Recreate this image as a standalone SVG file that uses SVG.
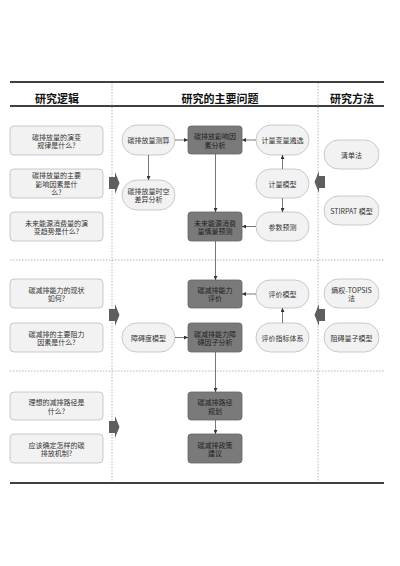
<svg xmlns="http://www.w3.org/2000/svg" width="400" height="566" viewBox="0 0 400 566">
<defs>
<style>
.hdr{font-family:"Noto Sans CJK SC","Noto Sans",sans-serif;font-weight:bold;font-size:11px;fill:#111;text-anchor:middle}
.t{font-family:"Noto Sans CJK SC","Noto Sans",sans-serif;font-size:7px;fill:#333;text-anchor:middle;dominant-baseline:central}
.lt rect{fill:#f2f2f2;stroke:#bdbdbd;stroke-width:0.8}
.dk rect{fill:#7a7a7a;stroke:#666;stroke-width:0.8}
.dk text{fill:#1e1e1e}
.thick{stroke:#000;stroke-width:1.6}
.dot{stroke:#9a9a9a;stroke-width:0.7;stroke-dasharray:1.5 1.5;fill:none}
.c{stroke:#555;stroke-width:0.8;fill:none;marker-end:url(#ah)}
.big{fill:#5e5e5e}
</style>
<marker id="ah" markerWidth="4" markerHeight="4" refX="4" refY="2" orient="auto" markerUnits="userSpaceOnUse">
<path d="M0,0 L4,2 L0,4 z" fill="#333"/>
</marker>
</defs>
<rect width="400" height="566" fill="#fff"/>

<g id="frame">
<line class="thick" x1="10" y1="82" x2="384" y2="82"/>
<line class="thick" x1="10" y1="106" x2="384" y2="106"/>
<line class="thick" x1="10" y1="483" x2="384" y2="483"/>
<line class="dot" x1="112" y1="83" x2="112" y2="482"/>
<line class="dot" x1="318" y1="83" x2="318" y2="482"/>
<line class="dot" x1="10" y1="260" x2="384" y2="260"/>
<line class="dot" x1="10" y1="371" x2="384" y2="371"/>
<text class="hdr" x="57" y="103">研究逻辑</text>
<text class="hdr" x="220" y="103">研究的主要问题</text>
<text class="hdr" x="352" y="103">研究方法</text>
</g>

<g id="bigarrows">
<path class="big" d="M109,177 L115,177 L115,172 L119.5,183 L115,194 L115,189 L109,189 z"/>
<path class="big" d="M109,309 L115,309 L115,304 L119.5,315 L115,326 L115,321 L109,321 z"/>
<path class="big" d="M109,421 L115,421 L115,416 L119.5,427 L115,438 L115,433 L109,433 z"/>
<path class="big" d="M325,176 L319,176 L319,171 L314.5,182 L319,193 L319,188 L325,188 z"/>
<path class="big" d="M325,309 L319,309 L319,304 L314.5,315 L319,326 L319,321 L325,321 z"/>
</g>

<g id="q1" class="lt"><rect x="10" y="126" width="93" height="29" rx="4"/><text class="t" x="56.5" y="136.5">碳排放量的演变</text><text class="t" x="56.5" y="145">规律是什么?</text></g>
<g id="q2" class="lt"><rect x="10" y="169" width="93" height="29" rx="4"/><text class="t" x="56.5" y="175">碳排放量的主要</text><text class="t" x="56.5" y="183.5">影响因素是什</text><text class="t" x="56.5" y="192">么?</text></g>
<g id="q3" class="lt"><rect x="10" y="212" width="93" height="29" rx="4"/><text class="t" x="56.5" y="222.5">未来能源消费量的演</text><text class="t" x="56.5" y="231">变趋势是什么?</text></g>
<g id="q4" class="lt"><rect x="10" y="279" width="93" height="29" rx="4"/><text class="t" x="56.5" y="289.5">碳减排能力的现状</text><text class="t" x="56.5" y="298">如何?</text></g>
<g id="q5" class="lt"><rect x="10" y="323" width="93" height="29" rx="4"/><text class="t" x="56.5" y="333.5">碳减排的主要阻力</text><text class="t" x="56.5" y="342">因素是什么?</text></g>
<g id="q6" class="lt"><rect x="10" y="392" width="93" height="28" rx="4"/><text class="t" x="56.5" y="402">理想的减排路径是</text><text class="t" x="56.5" y="410.5">什么?</text></g>
<g id="q7" class="lt"><rect x="10" y="434" width="93" height="29" rx="4"/><text class="t" x="56.5" y="444.5">应该确定怎样的碳</text><text class="t" x="56.5" y="453">排放机制?</text></g>

<g id="a1" class="lt"><rect x="122" y="125" width="53" height="30" rx="15"/><text class="t" x="148.5" y="140">碳排放量测算</text></g>
<g id="a2" class="lt"><rect x="122" y="180" width="53" height="30" rx="15"/><text class="t" x="148.5" y="190.5">碳排放量时空</text><text class="t" x="148.5" y="199">差异分析</text></g>
<g id="a3" class="lt"><rect x="122" y="323" width="53" height="29" rx="14.5"/><text class="t" x="148.5" y="337.5">障碍度模型</text></g>

<g id="b1" class="dk"><rect x="188" y="126" width="54" height="28" rx="3"/><text class="t" x="215" y="136">碳排放影响因</text><text class="t" x="215" y="144.5">素分析</text></g>
<g id="b2" class="dk"><rect x="188" y="212" width="54" height="29" rx="3"/><text class="t" x="215" y="222.5">未来能源消费</text><text class="t" x="215" y="231">量情景预测</text></g>
<g id="b3" class="dk"><rect x="188" y="280" width="54" height="28" rx="3"/><text class="t" x="215" y="289.5">碳减排能力</text><text class="t" x="215" y="298">评价</text></g>
<g id="b4" class="dk"><rect x="188" y="323" width="54" height="29" rx="3"/><text class="t" x="215" y="333.5">碳减排能力障</text><text class="t" x="215" y="342">碍因子分析</text></g>
<g id="b5" class="dk"><rect x="188" y="392" width="54" height="28" rx="3"/><text class="t" x="215" y="402">碳减排路径</text><text class="t" x="215" y="410.5">规划</text></g>
<g id="b6" class="dk"><rect x="188" y="434" width="54" height="29" rx="3"/><text class="t" x="215" y="444.5">碳减排政策</text><text class="t" x="215" y="453">建议</text></g>

<g id="c1" class="lt"><rect x="256" y="125" width="53" height="30" rx="15"/><text class="t" x="282.5" y="140">计量变量遴选</text></g>
<g id="c2" class="lt"><rect x="256" y="169" width="53" height="29" rx="14.5"/><text class="t" x="282.5" y="183.5">计量模型</text></g>
<g id="c3" class="lt"><rect x="256" y="212" width="53" height="29" rx="14.5"/><text class="t" x="282.5" y="226.5">参数预测</text></g>
<g id="c4" class="lt"><rect x="256" y="280" width="53" height="28" rx="14"/><text class="t" x="282.5" y="294">评价模型</text></g>
<g id="c5" class="lt"><rect x="256" y="323" width="53" height="29" rx="14.5"/><text class="t" x="282.5" y="337.5">评价指标体系</text></g>

<g id="m1" class="lt"><rect x="324" y="140" width="55" height="29" rx="14.5"/><text class="t" x="351.5" y="154.5">清单法</text></g>
<g id="m2" class="lt"><rect x="324" y="196" width="55" height="29" rx="14.5"/><text class="t" x="351.5" y="210.5">STIRPAT 模型</text></g>
<g id="m3" class="lt"><rect x="324" y="279" width="55" height="29" rx="14.5"/><text class="t" x="351.5" y="289.5">熵权-TOPSIS</text><text class="t" x="351.5" y="298">法</text></g>
<g id="m4" class="lt"><rect x="324" y="323" width="55" height="29" rx="14.5"/><text class="t" x="351.5" y="337.5">阻碍量子模型</text></g>

<g id="connectors">
<line class="c" x1="175" y1="140" x2="188" y2="140"/>
<line class="c" x1="148.5" y1="155" x2="148.5" y2="180"/>
<line class="c" x1="256" y1="140" x2="242" y2="140"/>
<line class="c" x1="282.5" y1="169" x2="282.5" y2="155"/>
<line class="c" x1="282.5" y1="198" x2="282.5" y2="212"/>
<line class="c" x1="256" y1="226.5" x2="242" y2="226.5"/>
<line class="c" x1="215.5" y1="154" x2="215.5" y2="212"/>
<line class="c" x1="215.5" y1="241" x2="215.5" y2="280"/>
<line class="c" x1="256" y1="294" x2="242" y2="294"/>
<line class="c" x1="282.5" y1="323" x2="282.5" y2="308"/>
<line class="c" x1="175" y1="337.5" x2="188" y2="337.5"/>
<line class="c" x1="215.5" y1="352" x2="215.5" y2="392"/>
<line class="c" x1="215.5" y1="420" x2="215.5" y2="434"/>
</g>
</svg>
